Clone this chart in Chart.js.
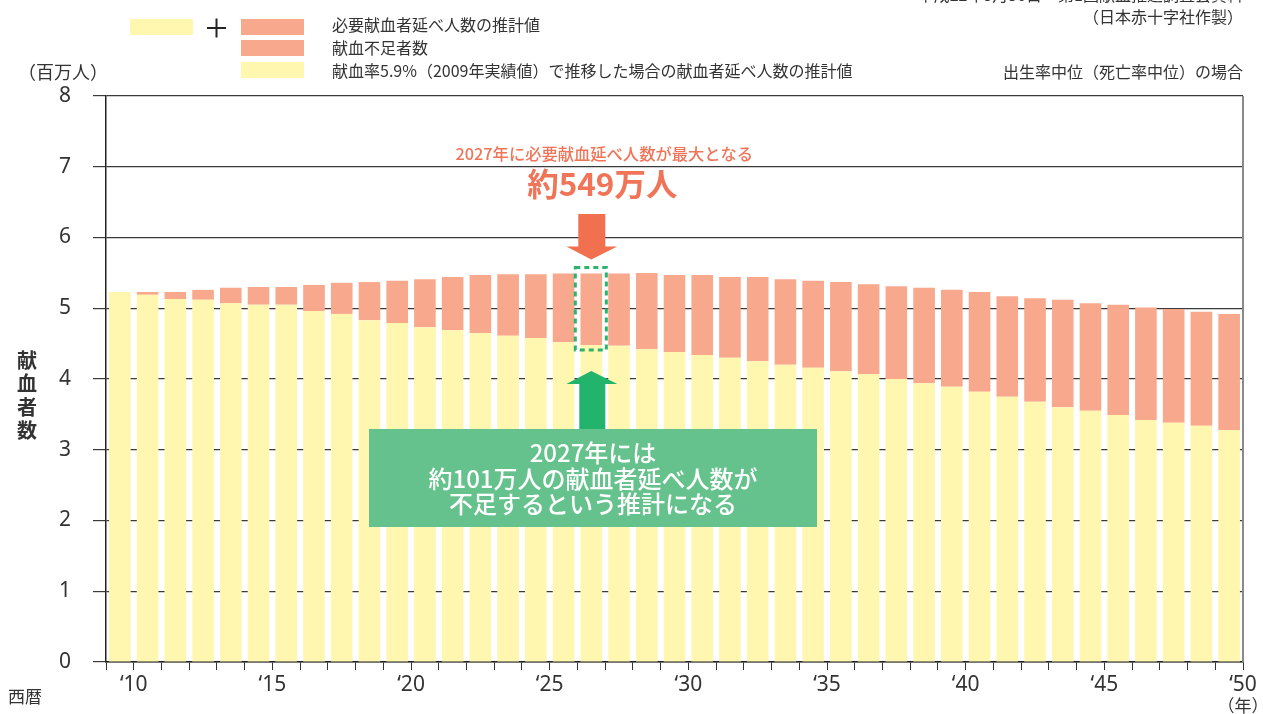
<!DOCTYPE html>
<html lang="ja">
<head>
<meta charset="utf-8">
<title>献血者数の推計</title>
<script src="https://cdn.jsdelivr.net/npm/chart.js@4/dist/chart.umd.min.js"></script>
<style>
  html, body { margin: 0; padding: 0; background: #fff; }
  #wrap { position: relative; width: 1263px; height: 714px; }
</style>
</head>
<body>
<div id="wrap"><canvas id="c" width="1263" height="714"></canvas></div>
<script>
// ---- data (百万人) ----
const years = [2010,2011,2012,2013,2014,2015,2016,2017,2018,2019,2020,2021,2022,2023,2024,2025,2026,2027,2028,2029,2030,
               2031,2032,2033,2034,2035,2036,2037,2038,2039,2040,2041,2042,2043,2044,2045,2046,2047,2048,2049,2050];
// 献血率5.9%(2009年実績値)で推移した場合の献血者延べ人数の推計値
const supply = [5.23,5.19,5.13,5.12,5.07,5.05,5.05,4.96,4.92,4.83,4.79,4.73,4.69,4.65,4.61,4.58,4.52,4.48,4.47,4.42,4.38,
                4.34,4.30,4.25,4.20,4.16,4.11,4.07,4.00,3.94,3.89,3.82,3.75,3.68,3.60,3.55,3.49,3.42,3.38,3.34,3.28];
// 献血不足者数
const shortage = [0.00,0.04,0.10,0.14,0.22,0.25,0.25,0.37,0.44,0.54,0.60,0.68,0.75,0.82,0.87,0.90,0.97,1.01,1.02,1.08,1.09,
                  1.13,1.14,1.19,1.21,1.23,1.26,1.27,1.31,1.35,1.37,1.41,1.42,1.46,1.52,1.52,1.56,1.59,1.61,1.61,1.64];
const yTickValues = [0,1,2,3,4,5,6,7,8];
const xTickYears = [2010,2015,2020,2025,2030,2035,2040,2045,2050];
const xTickLabels = ["‘10","‘15","‘20","‘25","‘30","‘35","‘40","‘45","‘50"];
const peakYear = 2027;
const peakTotal = 5.49;   // 約549万人

const FONT = '"Noto Sans CJK JP", "Noto Sans", sans-serif';
const NUMFONT = '"Noto Sans", "Liberation Sans", sans-serif';
const YELLOW = '#FFF7B0';
const SALMON = '#F8A88D';
const TXT = '#333333';

const overlay = {
  id: 'overlay',
  afterDraw(chart) {
    const ctx = chart.ctx;
    const ca = chart.chartArea;
    const xs = chart.scales.x, ys = chart.scales.y;
    ctx.save();

    // right frame line
    ctx.strokeStyle = '#8a8a8a';
    ctx.lineWidth = 2;
    ctx.beginPath();
    ctx.moveTo(ca.right, ca.top); ctx.lineTo(ca.right, ca.bottom);
    ctx.stroke();

    // ---- legend ----
    ctx.fillStyle = YELLOW; ctx.fillRect(130, 19, 63, 16);
    ctx.fillStyle = SALMON; ctx.fillRect(241, 19, 63, 16);
    ctx.fillStyle = SALMON; ctx.fillRect(241, 40, 63, 16);
    ctx.fillStyle = YELLOW; ctx.fillRect(241, 62, 63, 16);
    ctx.strokeStyle = '#222'; ctx.lineWidth = 2;
    ctx.beginPath();
    ctx.moveTo(207, 28); ctx.lineTo(226, 28);
    ctx.moveTo(216.5, 18.5); ctx.lineTo(216.5, 37.5);
    ctx.stroke();
    ctx.fillStyle = TXT;
    ctx.font = '16px ' + FONT;
    ctx.textAlign = 'left'; ctx.textBaseline = 'middle';
    ctx.fillText('必要献血者延べ人数の推計値', 332, 25);
    ctx.fillText('献血不足者数', 332, 48);
    ctx.fillText('献血率5.9%（2009年実績値）で推移した場合の献血者延べ人数の推計値', 332, 71);

    // source / notes (top right)
    ctx.textAlign = 'right';
    ctx.font = '16px ' + FONT;
    ctx.fillText('平成22年5月30日　第1回献血推進調査会資料', 1243, -5);
    ctx.fillText('（日本赤十字社作製）', 1243, 17);
    ctx.fillText('出生率中位（死亡率中位）の場合', 1243, 72);

    // axis captions
    ctx.textAlign = 'left';
    ctx.font = '18px ' + FONT;
    ctx.fillText('（百万人）', 18, 72);
    ctx.font = '17px ' + FONT;
    ctx.fillText('西暦', 8, 697);
    ctx.textAlign = 'center';
    ctx.fillText('（年）', 1243, 706);
    ctx.font = 'bold 20px ' + FONT;
    const title = '献血者数';
    for (let i = 0; i < title.length; i++) ctx.fillText(title[i], 27, 360 + i * 23.5);

    // ---- annotations around the peak year ----
    const idx = years.indexOf(peakYear);
    const xc = xs.getPixelForValue(idx);
    const yTop = ys.getPixelForValue(peakTotal);
    const ySup = ys.getPixelForValue(supply[idx]);

    ctx.fillStyle = '#F07458';
    ctx.textAlign = 'center';
    ctx.font = '500 16.3px ' + FONT;
    ctx.fillText('2027年に必要献血延べ人数が最大となる', xc + 13, 154);
    ctx.font = 'bold 31.5px ' + FONT;
    ctx.fillText('約549万人', xc + 11, 184);

    // orange down arrow
    ctx.fillStyle = '#F07050';
    ctx.beginPath();
    ctx.moveTo(xc - 13, 214); ctx.lineTo(xc + 14, 214);
    ctx.lineTo(xc + 14, yTop - 27); ctx.lineTo(xc + 26, yTop - 27);
    ctx.lineTo(xc, yTop - 14); ctx.lineTo(xc - 25, yTop - 27);
    ctx.lineTo(xc - 13, yTop - 27);
    ctx.closePath(); ctx.fill();

    // dashed frame
    ctx.strokeStyle = '#2DB36E';
    ctx.lineWidth = 3;
    ctx.setLineDash([5, 4]);
    ctx.strokeRect(xc - 16, yTop - 6, 31, (ySup + 5) - (yTop - 6));
    ctx.setLineDash([]);

    // green up arrow
    ctx.fillStyle = '#22B46C';
    ctx.beginPath();
    ctx.moveTo(xc, 371); ctx.lineTo(xc + 26, 384); ctx.lineTo(xc + 14, 384);
    ctx.lineTo(xc + 14, 432); ctx.lineTo(xc - 12, 432); ctx.lineTo(xc - 12, 384);
    ctx.lineTo(xc - 25, 384);
    ctx.closePath(); ctx.fill();

    // green message box
    ctx.fillStyle = '#66C28C';
    ctx.fillRect(369, 429, 448, 98);
    ctx.fillStyle = '#ffffff';
    ctx.font = '500 24px ' + FONT;
    ctx.fillText('2027年には', 593, 453);
    ctx.fillText('約101万人の献血者延べ人数が', 593, 479);
    ctx.fillText('不足するという推計になる', 593, 504);

    ctx.restore();
  }
};

const boundaries = [years[0] - 1].concat(years);

new Chart(document.getElementById('c'), {
  type: 'bar',
  data: {
    labels: years.map(String),
    datasets: [
      { label: '献血率5.9%(2009年実績値)で推移した場合の献血者延べ人数の推計値', data: supply,
        backgroundColor: YELLOW, borderWidth: 0, barPercentage: 0.78, categoryPercentage: 1.0 },
      { label: '献血不足者数', data: shortage,
        backgroundColor: SALMON, borderWidth: 0, barPercentage: 0.78, categoryPercentage: 1.0 }
    ]
  },
  options: {
    responsive: false,
    animation: false,
    events: [],
    layout: { padding: { top: 96, right: 20, left: 0, bottom: 0 } },
    plugins: { legend: { display: false }, tooltip: { enabled: false }, title: { display: false } },
    scales: {
      x: { type: 'category', stacked: true, display: false, offset: true },
      x2: {
        type: 'linear', position: 'bottom', offset: false,
        min: boundaries[0], max: boundaries[boundaries.length - 1],
        afterBuildTicks(scale) { scale.ticks = boundaries.map(v => ({ value: v })); },
        afterFit(scale) { scale.height = 52; },
        ticks: {
          autoSkip: false, maxRotation: 0, padding: 2,
          color: TXT, font: { family: NUMFONT, size: 21 },
          callback(v) { const i = xTickYears.indexOf(v); return i >= 0 ? xTickLabels[i] : ''; }
        },
        grid: { offset: false, drawOnChartArea: false, drawTicks: true, tickLength: 8, color: '#333', lineWidth: 1 },
        border: { display: true, color: '#222', width: 1.5 }
      },
      y: {
        stacked: true, min: 0, max: 8, z: 1,
        afterBuildTicks(scale) { scale.ticks = yTickValues.map(v => ({ value: v })); },
        afterFit(scale) { scale.width = 106; },
        ticks: { color: TXT, font: { family: NUMFONT, size: 21 }, padding: 22 },
        grid: { color: '#3a3a3a', lineWidth: 1.2, tickLength: 13, drawTicks: true },
        border: { display: true, color: '#222', width: 1.5 }
      }
    }
  },
  plugins: [overlay]
});
</script>
</body>
</html>
